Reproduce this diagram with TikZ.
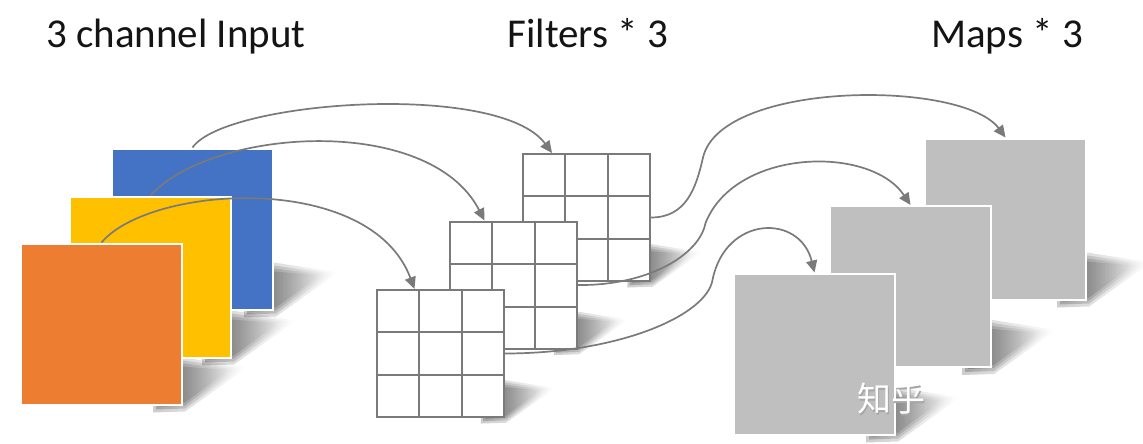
\documentclass[tikz,border=0pt]{standalone}
\usepackage{fontspec}
\newfontfamily\titlefont{Carlito}
\newfontfamily\cjkfont{Noto Sans CJK SC}
\usetikzlibrary{arrows.meta,backgrounds,fadings,calc}

\definecolor{inblue}{HTML}{4472C4}
\definecolor{inyellow}{HTML}{FFC000}
\definecolor{inorange}{HTML}{ED7D31}
\definecolor{mapgray}{HTML}{BFBFBF}
\definecolor{linegray}{HTML}{7A7A7A}

\tikzset{
  title/.style={font=\titlefont\fontsize{41}{49}\selectfont, text=black!92, anchor=base, inner sep=0pt},
  plane/.style={draw=white, line width=2pt, minimum size=161pt, inner sep=0pt},
  filterbox/.style={draw=linegray, fill=white, line width=2pt, minimum size=127pt, inner sep=0pt},
  gridline/.style={draw=linegray, line width=2pt},
  castshade/.style={fill=black, fill opacity=0.2, path fading=east},
  link/.style={draw=linegray, line width=1.7pt, -{Triangle[length=12pt,width=11pt]}},
  watermark/.style={font=\cjkfont\fontsize{34}{34}\selectfont, inner sep=0pt},
}

\begin{document}
\begin{tikzpicture}[x=1pt,y=1pt]
        \begin{pgfonlayer}{background}
          \fill[white] (0,0) rectangle (1143,-444);
        \end{pgfonlayer}
        \useasboundingbox (0,0) rectangle (1143,-444);

        % titles
        \node[title] (tIn) at (176,-48) {3 channel Input};
        \node[title] (tFil) at (588,-48) {Filters * 3};
        \node[title] (tMap) at (1007,-48) {Maps * 3};

        % input channels
        \node[plane, fill=inblue] (inB) at (192.5,-229) {};
        \node[plane, fill=inyellow] (inY) at (150.5,-277) {};
        \node[plane, fill=inorange] (inO) at (101.5,-324) {};

        % 3x3 filters
        \foreach \f/\p in {fA/{586.5,-217.5}, fB/{513,-285}, fC/{440,-353.5}} {
          \node[filterbox] (\f) at (\p) {};
          \foreach \t in {1,2} {
            \draw[gridline] ($(\f.north west)!\t/3!(\f.north east)$) -- ($(\f.south west)!\t/3!(\f.south east)$);
            \draw[gridline] ($(\f.north west)!\t/3!(\f.south west)$) -- ($(\f.north east)!\t/3!(\f.south east)$);
          }
        }

        % feature maps
        \node[plane, fill=mapgray] (mA) at (1005.5,-219) {};
        \node[plane, fill=mapgray] (mB) at (910.5,-286.5) {};
        \node[plane, fill=mapgray] (mC) at (814.5,-354) {};

        % soft cast shadows, stacked
        \begin{pgfonlayer}{background}
          \foreach \n/\s in {inB/1,inY/1,inO/1,fA/0.79,fB/0.79,fC/0.79,mA/1,mB/1,mC/1}
            \foreach \d in {0,3,6,9}
              \fill[castshade] ([shift={({(-30+\d)*\s},{(-7+\d)*\s})}]\n.south east)
                -- ([shift={({2*\s},{(-6+\d)*\s})}]\n.south east)
                -- ([shift={({(64-2*\d)*\s},{(38-0.3*\d)*\s})}]\n.south east)
                -- ([shift={(0,{(48-\d)*\s})}]\n.south east)
                -- ([shift={({(-30+\d)*\s},{(48-\d)*\s})}]\n.south east) -- cycle;
        \end{pgfonlayer}

        % input -> filter
        \draw[link] (inB.north) .. controls +(33,47) and +(-53,72) .. ([xshift=30pt]fA.north west);
        \draw[link] (inY.north) .. controls +(62,68) and +(-55,107) .. ([xshift=36pt]fB.north west);
        \draw[link] (inO.north) .. controls +(49,58) and +(-44,118) .. ([xshift=39pt]fC.north west);

        % filter -> map
        \draw[link] (fA.east) .. controls +(35,0) and +(-7,-31) .. ++(52,60)
          .. controls +(18,77) and +(-43,58) .. (mA.north);
        \draw[link] (fB.east) .. controls +(70,-1) and +(-6,-32) .. ++(128,62)
          .. controls +(30,75) and +(-40,60) .. (mB.north);
        \draw[link] (fC.east) .. controls +(116,0) and +(-6,-35) .. ++(208,73.5)
          .. controls +(13,65) and +(-14.5,59) .. (mC.north);

        % watermark
        \node[watermark, text=black!35] (markshade) at (892.2,-400.2) {知乎};
        \node[watermark, text=white] (zhihu) at (891,-399) {知乎};
\end{tikzpicture}
\end{document}
